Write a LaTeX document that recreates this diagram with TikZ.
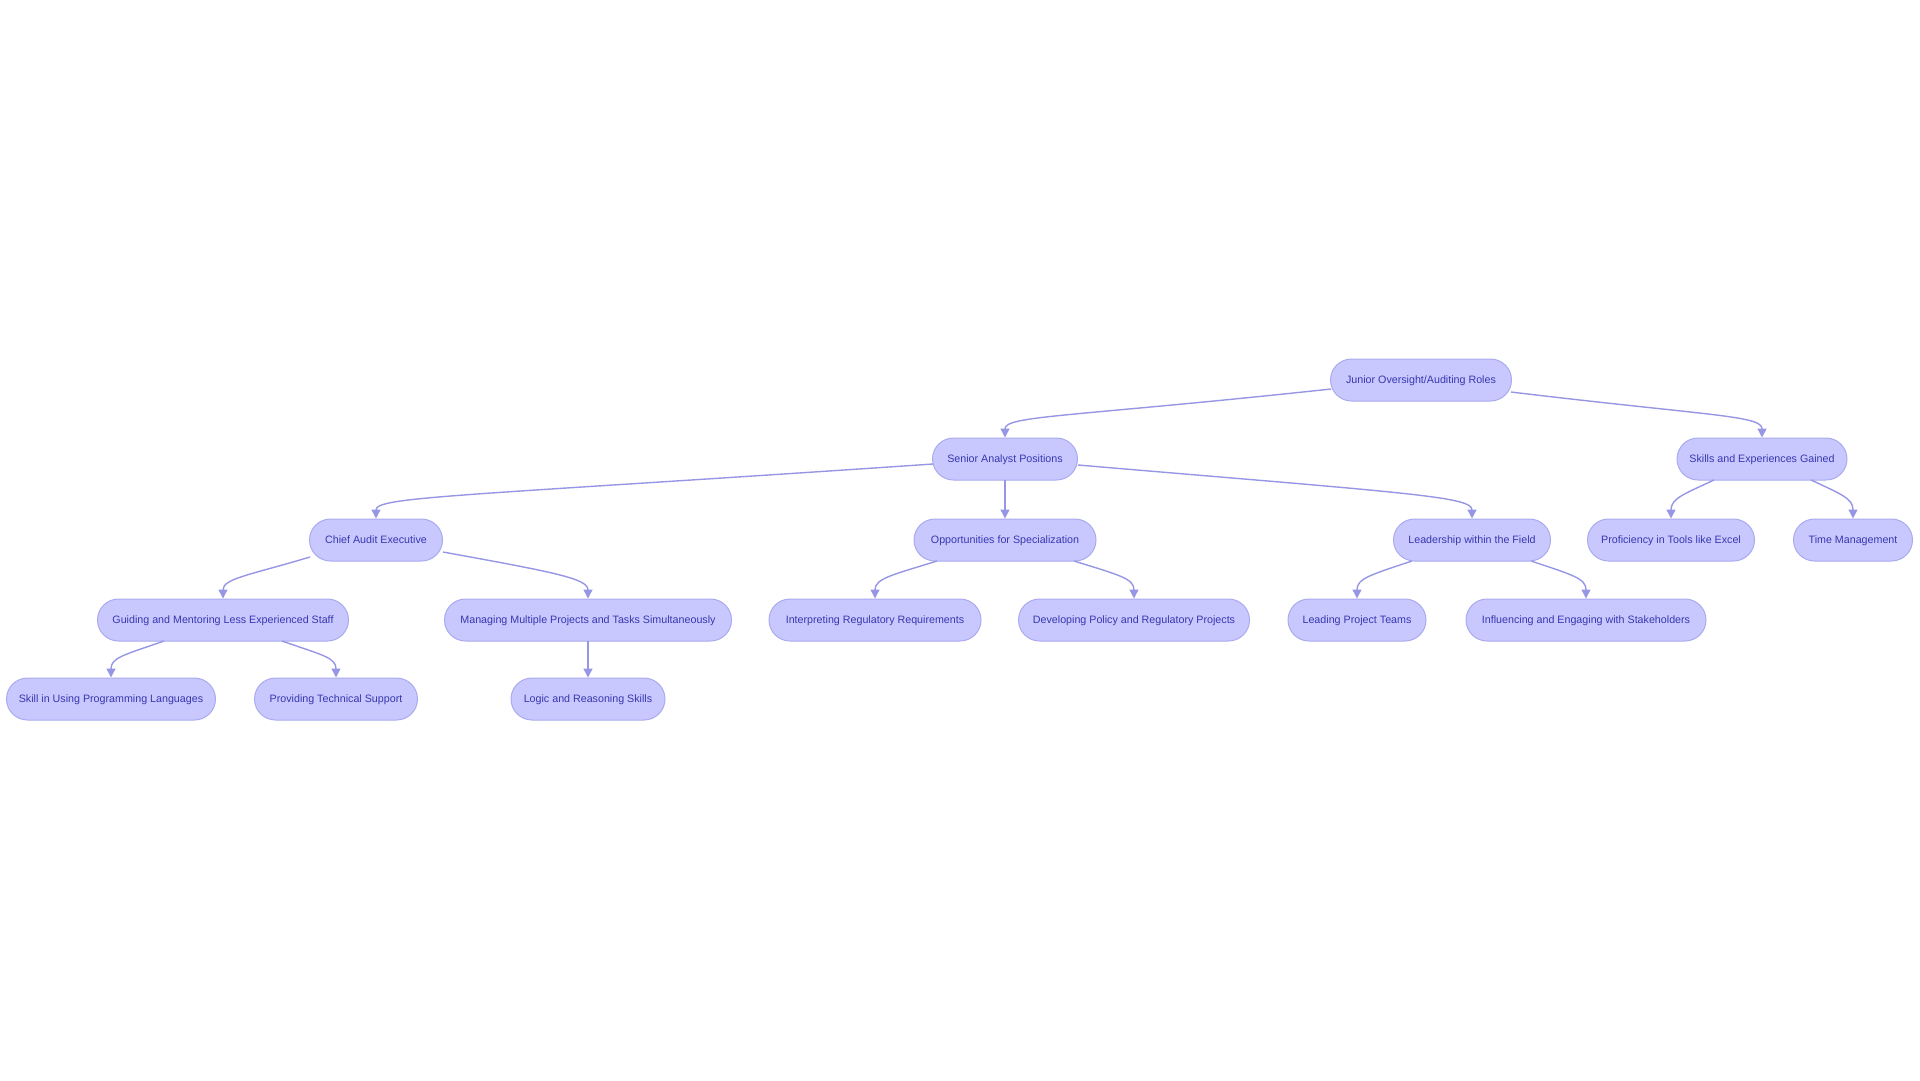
\documentclass[tikz,border=0pt]{standalone}
\usepackage{fontspec}
\setmainfont{Liberation Sans}
\usetikzlibrary{calc,arrows.meta}
\definecolor{nodefill}{RGB}{200,200,255}
\definecolor{nodeline}{RGB}{170,170,238}
\definecolor{nodetext}{RGB}{55,55,175}
\definecolor{edgecol}{RGB}{150,150,228}
\begin{document}
\begin{tikzpicture}[x=1pt,y=-1pt,
  box/.style={draw=nodeline, line width=1pt, fill=nodefill, rounded corners=21pt,
    minimum height=42pt, inner xsep=8pt, inner ysep=0pt, text=nodetext,
    text height=9.5pt, text depth=2pt,
    font=\fontsize{10.7}{12}\selectfont},
  edge/.style={draw=edgecol, line width=1.4pt, -{Triangle[length=9pt,width=9pt]}}]
\useasboundingbox (0,0) rectangle (1920,1080);
% row 1
\node[box, minimum width=181pt] (j) at (1421,380) {Junior Oversight/Auditing Roles};
% row 2
\node[box, minimum width=145pt] (s) at (1005,459) {Senior Analyst Positions};
\node[box, minimum width=170pt] (sk) at (1762,459) {Skills and Experiences Gained};
% row 3
\node[box, minimum width=133pt] (c) at (376,540) {Chief Audit Executive};
\node[box, minimum width=182pt] (o) at (1005,540) {Opportunities for Specialization};
\node[box, minimum width=157pt] (l) at (1472,540) {Leadership within the Field};
\node[box, minimum width=167pt] (p) at (1671,540) {Proficiency in Tools like Excel};
\node[box, minimum width=119pt] (t) at (1853,540) {Time Management};
% row 4
\node[box, minimum width=251pt] (g) at (223,620) {Guiding and Mentoring Less Experienced Staff};
\node[box, minimum width=287pt] (m) at (588,620) {Managing Multiple Projects and Tasks Simultaneously};
\node[box, minimum width=212pt] (i) at (875,620) {Interpreting Regulatory Requirements};
\node[box, minimum width=231pt] (d) at (1134,620) {Developing Policy and Regulatory Projects};
\node[box, minimum width=138pt] (lp) at (1357,620) {Leading Project Teams};
\node[box, minimum width=240pt] (in) at (1586,620) {Influencing and Engaging with Stakeholders};
% row 5
\node[box, minimum width=209pt] (sp) at (111,699) {Skill in Using Programming Languages};
\node[box, minimum width=163pt] (pt) at (336,699) {Providing Technical Support};
\node[box, minimum width=154pt] (lo) at (588,699) {Logic and Reasoning Skills};
% edges
\draw[edge] ($(j)+(-90,9)$) .. controls +(-260,28) and +(0,-22) .. (s.north);
\draw[edge] ($(j)+(90,12)$) .. controls +(200,24) and +(0,-22) .. (sk.north);
\draw[edge] ($(s)+(-72,5)$) .. controls +(-470,32) and +(0,-22) .. (c.north);
\draw[edge] ($(s)+(0,21)$) -- (o.north);
\draw[edge] ($(s)+(73,6)$) .. controls +(330,28) and +(0,-22) .. (l.north);
\draw[edge] ($(sk)+(-48,21)$) .. controls +(-30,14) and +(0,-20) .. (p.north);
\draw[edge] ($(sk)+(49,21)$) .. controls +(30,14) and +(0,-20) .. (t.north);
\draw[edge] ($(c)+(-66,17)$) .. controls +(-60,18) and +(0,-20) .. (g.north);
\draw[edge] ($(c)+(67,12)$) .. controls +(110,20) and +(0,-20) .. (m.north);
\draw[edge] ($(o)+(-68,21)$) .. controls +(-45,14) and +(0,-20) .. (i.north);
\draw[edge] ($(o)+(69,21)$) .. controls +(45,14) and +(0,-20) .. (d.north);
\draw[edge] ($(l)+(-60,21)$) .. controls +(-42,14) and +(0,-20) .. (lp.north);
\draw[edge] ($(l)+(59,21)$) .. controls +(42,14) and +(0,-20) .. (in.north);
\draw[edge] ($(g)+(-59,21)$) .. controls +(-40,14) and +(0,-20) .. (sp.north);
\draw[edge] ($(g)+(59,21)$) .. controls +(40,14) and +(0,-20) .. (pt.north);
\draw[edge] ($(m)+(0,21)$) -- (lo.north);
\end{tikzpicture}
\end{document}
